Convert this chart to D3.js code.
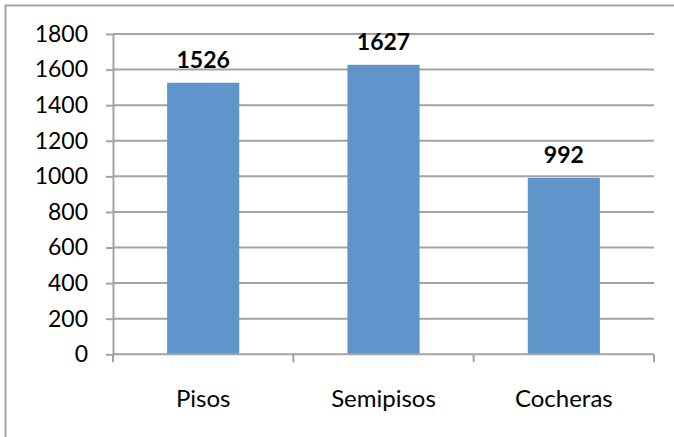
<!DOCTYPE html>
<html>
<head>
<meta charset="utf-8">
<script src="https://cdn.jsdelivr.net/npm/d3@7"></script>
<style>
  html, body { margin: 0; padding: 0; background: #fff; }
  svg { display: block; }
</style>
</head>
<body>
<svg id="chart" width="674" height="437"></svg>
<script>
// Unidades por tipo
const categories = ["Pisos", "Semipisos", "Cocheras"];
const values = [1526, 1627, 992];
const yTicks = [0, 200, 400, 600, 800, 1000, 1200, 1400, 1600, 1800];

const svg = d3.select("#chart");
const W = 674, H = 437;
const plot = { left: 113, right: 654, top: 34, bottom: 354.3 };
const gridColor = "#a3a3a3";
const barColor = "#5f95ca";
const font = "Lato, 'Open Sans', sans-serif";

// outer chart frame (right/bottom edges fall outside the view)
svg.append("rect")
  .attr("x", 5.5).attr("y", 5.5)
  .attr("width", W + 20).attr("height", H + 20)
  .attr("fill", "#fff")
  .attr("stroke", gridColor).attr("stroke-width", 2);

const x = d3.scaleBand()
  .domain(categories)
  .range([plot.left, plot.right])
  .paddingInner(0.6)
  .paddingOuter(0.3);

const y = d3.scaleLinear()
  .domain([0, 1800])
  .range([plot.bottom, plot.top]);

// horizontal gridlines
svg.append("g")
  .selectAll("line")
  .data(yTicks.filter(d => d > 0))
  .join("line")
  .attr("x1", plot.left).attr("x2", plot.right)
  .attr("y1", d => y(d)).attr("y2", d => y(d))
  .attr("stroke", gridColor).attr("stroke-width", 2);

// y axis
const yAxis = svg.append("g")
  .attr("transform", `translate(${plot.left},0)`)
  .call(d3.axisLeft(y).tickValues(yTicks).tickFormat(d3.format("d"))
    .tickSize(7).tickSizeOuter(0).tickPadding(18));
yAxis.select(".domain").attr("stroke", gridColor).attr("stroke-width", 2);
yAxis.selectAll(".tick line").attr("stroke", gridColor).attr("stroke-width", 2);
yAxis.selectAll(".tick text")
  .attr("font-family", font).attr("font-size", 23).attr("fill", "#000");

// bars
svg.append("g")
  .selectAll("rect")
  .data(values)
  .join("rect")
  .attr("x", (d, i) => x(categories[i]))
  .attr("y", d => y(d))
  .attr("width", x.bandwidth())
  .attr("height", d => y(0) - y(d))
  .attr("fill", barColor);

// x axis with boundary ticks between categories
const xAxisG = svg.append("g");
xAxisG.append("line")
  .attr("x1", plot.left).attr("x2", plot.right)
  .attr("y1", y(0)).attr("y2", y(0))
  .attr("stroke", gridColor).attr("stroke-width", 2);
const bounds = categories.map(c => x(c) - x.step() * x.paddingOuter())
  .concat([plot.right]);
xAxisG.selectAll("line.tk")
  .data(bounds)
  .join("line")
  .attr("class", "tk")
  .attr("x1", d => d).attr("x2", d => d)
  .attr("y1", y(0)).attr("y2", y(0) + 8)
  .attr("stroke", gridColor).attr("stroke-width", 2);
xAxisG.selectAll("text")
  .data(categories)
  .join("text")
  .attr("x", d => x(d) + x.bandwidth() / 2)
  .attr("y", 407)
  .attr("text-anchor", "middle")
  .attr("font-family", font).attr("font-size", 24).attr("fill", "#000")
  .text(d => d);

// value labels
svg.append("g")
  .selectAll("text")
  .data(values)
  .join("text")
  .attr("x", (d, i) => x(categories[i]) + x.bandwidth() / 2)
  .attr("y", d => y(d) - 15)
  .attr("text-anchor", "middle")
  .attr("font-family", font).attr("font-size", 23).attr("font-weight", "bold").attr("fill", "#000")
  .text(d => d);
</script>
</body>
</html>
